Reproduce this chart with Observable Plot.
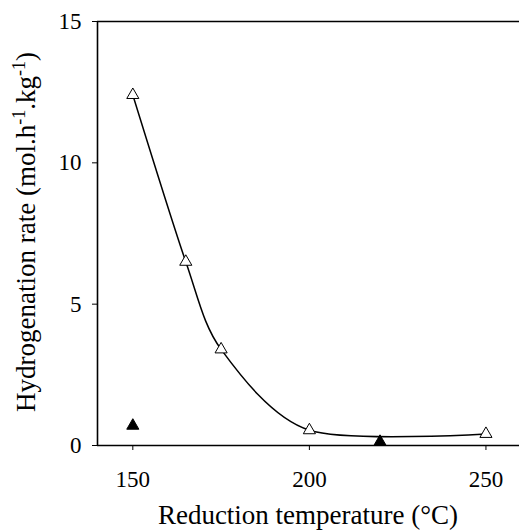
<!DOCTYPE html>
<html><head><meta charset="utf-8">
<script src="https://cdn.jsdelivr.net/npm/d3@7"></script>
<script src="https://cdn.jsdelivr.net/npm/@observablehq/plot@0.6"></script>
<style>body{margin:0;background:#fff}</style>
</head><body><div id="chart"></div>
<script>
const openTemps = [150, 165, 175, 200, 250];
const openRates = [12.4, 6.5, 3.4, 0.54, 0.41];
const filledTemps = [150, 220];
const filledRates = [0.7, 0.13];
const xTicks = [150, 200, 250];
const yTicks = [0, 5, 10, 15];
const xLabel = "Reduction temperature (°C)";

const openData = openTemps.map((t, i) => ({t, r: openRates[i]}));
const filledData = filledTemps.map((t, i) => ({t, r: filledRates[i]}));

const font = "Liberation Serif, Times New Roman, serif";
const plot = Plot.plot({
  width: 519, height: 532,
  marginLeft: 97, marginRight: 0, marginTop: 21, marginBottom: 87,
  style: {fontFamily: font, fontSize: "23px", color: "#000", background: "#fff"},
  x: {domain: [140, 259.5]},
  y: {domain: [0, 15]},
  marks: [
    Plot.axisX({ticks: xTicks, tickSize: 5, tickPadding: 20, label: null, fontSize: 23, tickFormat: d => String(d)}),
    Plot.axisY({ticks: yTicks, tickSize: 5, tickPadding: 11, label: null, fontSize: 23}),
    Plot.ruleY([0], {stroke: "#000", strokeWidth: 1.6}),
    Plot.ruleY([15], {stroke: "#000", strokeWidth: 1.6}),
    Plot.ruleX([140], {stroke: "#000", strokeWidth: 1.6}),
    Plot.line(openData, {x: "t", y: "r", curve: "cardinal", tension: 0.15, stroke: "#000", strokeWidth: 1.5}),
    Plot.dot(openData, {x: "t", y: "r", symbol: "triangle", r: 4.5, fill: "#fff", stroke: "#000", strokeWidth: 1}),
    Plot.dot(filledData, {x: "t", y: "r", symbol: "triangle", r: 4.5, fill: "#000", stroke: "#000", strokeWidth: 1})
  ]
});
document.getElementById("chart").appendChild(plot);

const svg = d3.select(plot);
svg.append("text")
  .attr("x", 308).attr("y", 524)
  .attr("text-anchor", "middle")
  .attr("font-family", font).attr("font-size", 27).attr("fill", "#000")
  .text(xLabel);

const yl = svg.append("text")
  .attr("transform", "translate(35,232) rotate(-90)")
  .attr("text-anchor", "middle")
  .attr("font-family", font).attr("font-size", 27).attr("fill", "#000");
yl.append("tspan").text("Hydrogenation rate (mol.h");
yl.append("tspan").attr("font-size", 18).attr("dy", -10).text("-1");
yl.append("tspan").attr("dy", 10).text(".kg");
yl.append("tspan").attr("font-size", 18).attr("dy", -10).text("-1");
yl.append("tspan").attr("dy", 10).text(")");
</script></body></html>
